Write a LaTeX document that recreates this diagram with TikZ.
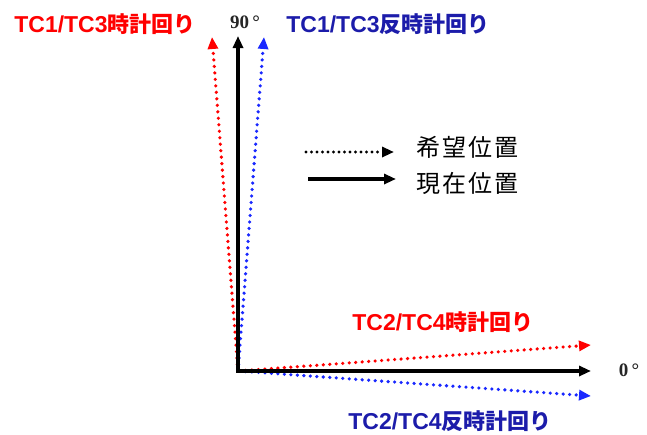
\documentclass[tikz,border=0pt]{standalone}
\usepackage{fontspec}
\usetikzlibrary{arrows.meta}
\newfontfamily\cjk{Noto Sans CJK JP}
\newfontfamily\latinb{Liberation Sans}
\newfontfamily\serifb{Liberation Serif}
\definecolor{tcred}{RGB}{255,0,0}
\definecolor{tcblue}{RGB}{28,28,170}
\definecolor{arblue}{RGB}{25,40,255}
\newcommand\tclbl[2]{{\latinb\bfseries\fontsize{23}{23}\selectfont #1}{\cjk\bfseries\fontsize{22}{22}\selectfont #2}}
\tikzset{
  lbl/.style={inner sep=0pt, anchor=center},
  axis/.style={line width=3.2pt, black, -{Triangle[length=12pt,width=10pt]}},
  want/.style={line width=3.6pt, line cap=round, dash pattern=on 0pt off 6.5pt, -{Triangle[length=12pt,width=10pt]}},
  deg/.style={inner sep=0pt, text=black!85, font=\serifb\bfseries\fontsize{19}{19}\selectfont},
  leg/.style={inner sep=0pt, anchor=west, font=\cjk\fontsize{24}{24}\selectfont}
}
\begin{document}
\begin{tikzpicture}[x=1pt,y=-1pt]
\useasboundingbox (0,0) rectangle (647,434);
\fill[white] (0,0) rectangle (647,434);
% anchors
\coordinate (O) at (238,371);
\coordinate (Oh) at (239,371);
\coordinate (up) at (238,36);
\coordinate (upr) at (212,37);
\coordinate (upb) at (264,37);
\coordinate (rt) at (591,371);
\coordinate (rtr) at (591,345);
\coordinate (rtb) at (591,396);
% wanted positions
\draw[want, tcred] (O) -- (upr);
\draw[want, arblue] (O) -- (upb);
\draw[want, tcred] (Oh) -- (rtr);
\draw[want, arblue] (Oh) -- (rtb);
% current axes
\draw[axis] (O) -- (up);
\draw[axis] ([xshift=-1.6pt]O) -- (rt);
% labels
\node[lbl, text=tcred] (l1) at (105,24) {\tclbl{TC1/TC3}{時計回り}};
\node[lbl, text=tcblue] (l2) at (388,24) {\tclbl{TC1/TC3}{反時計回り}};
\node[lbl, text=tcred] (l3) at (443,322) {\tclbl{TC2/TC4}{時計回り}};
\node[lbl, text=tcblue] (l4) at (450,421) {\tclbl{TC2/TC4}{反時計回り}};
\node[deg] (d90) at (245,22) {90\,°};
\node[deg] (d0) at (629,370) {0\,°};
% legend
\coordinate (la1) at (306,152);
\coordinate (lb1) at (394,152);
\coordinate (la2) at (308,179);
\coordinate (lb2) at (396,179);
\draw[want, black, line width=3.2pt, dash pattern=on 0pt off 5.5pt] (la1) -- (lb1);
\draw[axis] (la2) -- (lb2);
\node[leg] (t1) at (416,147) {希\hspace{2pt}望\hspace{2pt}位\hspace{2pt}置};
\node[leg] (t2) at (416,183) {現\hspace{2pt}在\hspace{2pt}位\hspace{2pt}置};
\end{tikzpicture}
\end{document}
